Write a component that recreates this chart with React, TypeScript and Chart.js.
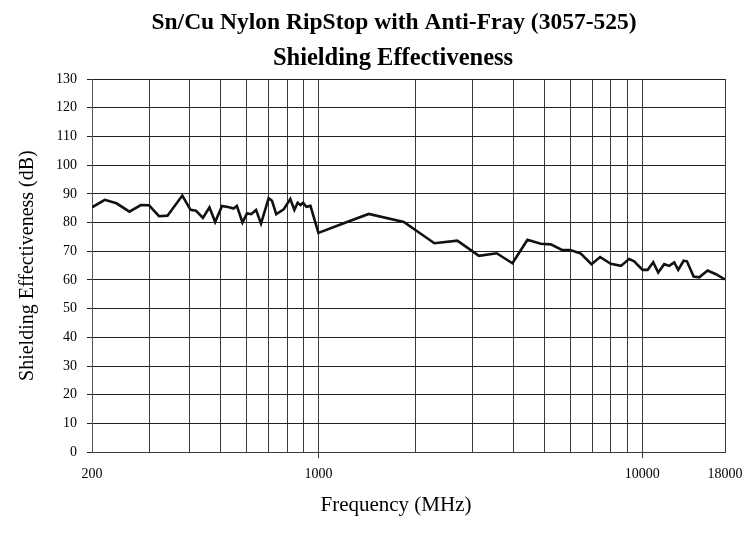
import React, { useEffect, useRef } from 'react';
import { Chart, registerables } from 'chart.js';

Chart.register(...registerables);

const titleText = 'Sn/Cu Nylon RipStop with Anti-Fray (3057-525)';
const subtitleText = 'Shielding Effectiveness';
const xAxisTitle = 'Frequency (MHz)';
const yAxisTitle = 'Shielding Effectiveness (dB)';

// Frequency (MHz)
const frequencies = [
  200, 219, 238, 261, 283, 300, 322, 342, 380, 403, 419, 440, 461, 480, 504, 530, 547, 560, 583, 602,
  620, 642, 665, 702, 719, 741, 781, 819, 843, 863, 880, 897, 918, 945, 1000, 1226, 1430, 1835, 2281,
  2685, 3131, 3551, 3972, 4420, 4858, 5218, 5668, 6000, 6457, 6966, 7408, 7994, 8586, 9108, 9438, 10020,
  10382, 10805, 11197, 11685, 12108, 12545, 12907, 13413, 13733, 14402, 14986, 15909, 16881, 18000,
];
// Shielding effectiveness (dB)
const shielding = [
  85.3, 87.9, 86.7, 83.8, 86.1, 86.0, 82.2, 82.4, 89.4, 84.4, 84.1, 81.6, 85.3, 80.2, 85.8, 85.3, 84.9, 85.8, 80.0, 83.2,
  82.9, 84.4, 79.6, 88.5, 87.6, 82.9, 84.6, 88.2, 84.4, 86.9, 86.1, 86.9, 85.5, 85.8, 76.4, 80.2, 83.0, 80.2, 72.8,
  73.7, 68.4, 69.3, 65.8, 74.0, 72.6, 72.4, 70.4, 70.4, 69.2, 65.5, 68.0, 65.6, 64.9, 67.3, 66.5, 63.5,
  63.5, 66.2, 62.6, 65.5, 64.9, 66.1, 63.5, 66.7, 66.5, 61.2, 60.9, 63.3, 62.0, 60.2,
];

const xGridValues = [200, 300, 400, 500, 600, 700, 800, 900, 1000, 2000, 3000, 4000, 5000, 6000, 7000, 8000, 9000, 10000, 18000];
const xLabelValues = [200, 1000, 10000, 18000];
const xTickMarkValues = [1000, 10000];
const yMin = 0;
const yMax = 130;
const yStep = 10;

const SERIF = "'Liberation Serif', 'Times New Roman', serif";

const titlesPlugin = {
  id: 'textTitles',
  afterDraw(chart: any) {
    const ctx = chart.ctx;
    ctx.save();
    ctx.fillStyle = '#000';
    ctx.textAlign = 'center';
    ctx.textBaseline = 'alphabetic';
    ctx.font = `bold 23.5px ${SERIF}`;
    ctx.fillText(titleText, 394, 29);
    ctx.font = `bold 24.5px ${SERIF}`;
    ctx.fillText(subtitleText, 393, 65);
    ctx.font = `21px ${SERIF}`;
    ctx.fillText(xAxisTitle, 396, 511);
    ctx.restore();
  },
};

export default function App() {
  const canvasRef = useRef<HTMLCanvasElement | null>(null);

  useEffect(() => {
    if (!canvasRef.current) return;
    const points = frequencies.map((f, i) => ({ x: f, y: shielding[i] }));
    const chart = new Chart(canvasRef.current, {
      type: 'line',
      data: {
        datasets: [
          {
            data: points,
            borderColor: '#111',
            borderWidth: 2.6,
            pointRadius: 0,
            tension: 0,
            fill: false,
          },
        ],
      },
      plugins: [titlesPlugin],
      options: {
        animation: false,
        responsive: false,
        maintainAspectRatio: false,
        layout: { padding: { left: 16, right: 1, top: 79, bottom: 44 } },
        plugins: {
          legend: { display: false },
          tooltip: { enabled: false },
          title: { display: false },
        },
        scales: {
          x: {
            type: 'logarithmic',
            min: 200,
            max: 18000,
            afterBuildTicks: (axis: any) => {
              axis.ticks = xGridValues.map((v) => ({ value: v }));
            },
            afterFit: (scale: any) => {
              scale.paddingRight = 18;
            },
            ticks: {
              autoSkip: false,
              maxRotation: 0,
              color: '#000',
              padding: 8,
              font: { family: SERIF, size: 14 },
              callback: (value: any) => (xLabelValues.includes(Number(value)) ? String(value) : ''),
            },
            grid: {
              color: '#3a3a3a',
              lineWidth: 1,
              tickLength: 6,
              tickColor: (ctx: any) =>
                ctx.tick && xTickMarkValues.includes(ctx.tick.value) ? '#3a3a3a' : 'rgba(0,0,0,0)',
            },
            border: { color: '#3a3a3a', width: 1 },
            title: { display: false },
          },
          y: {
            type: 'linear',
            min: yMin,
            max: yMax,
            ticks: {
              stepSize: yStep,
              color: '#000',
              padding: 10,
              font: { family: SERIF, size: 14 },
            },
            grid: {
              color: '#222',
              lineWidth: 1,
              tickLength: 5,
              tickColor: '#222',
            },
            border: { color: '#555', width: 1 },
            title: {
              display: true,
              text: yAxisTitle,
              color: '#000',
              font: { family: SERIF, size: 20 },
              padding: { top: 0, bottom: 6 },
            },
          },
        },
      },
    });
    return () => chart.destroy();
  }, []);

  return (
    <div style={{ position: 'fixed', left: 0, top: 0, width: 743, height: 535, background: '#fff' }}>
      <canvas ref={canvasRef} width={743} height={535} style={{ width: 743, height: 535, display: 'block' }} />
    </div>
  );
}
